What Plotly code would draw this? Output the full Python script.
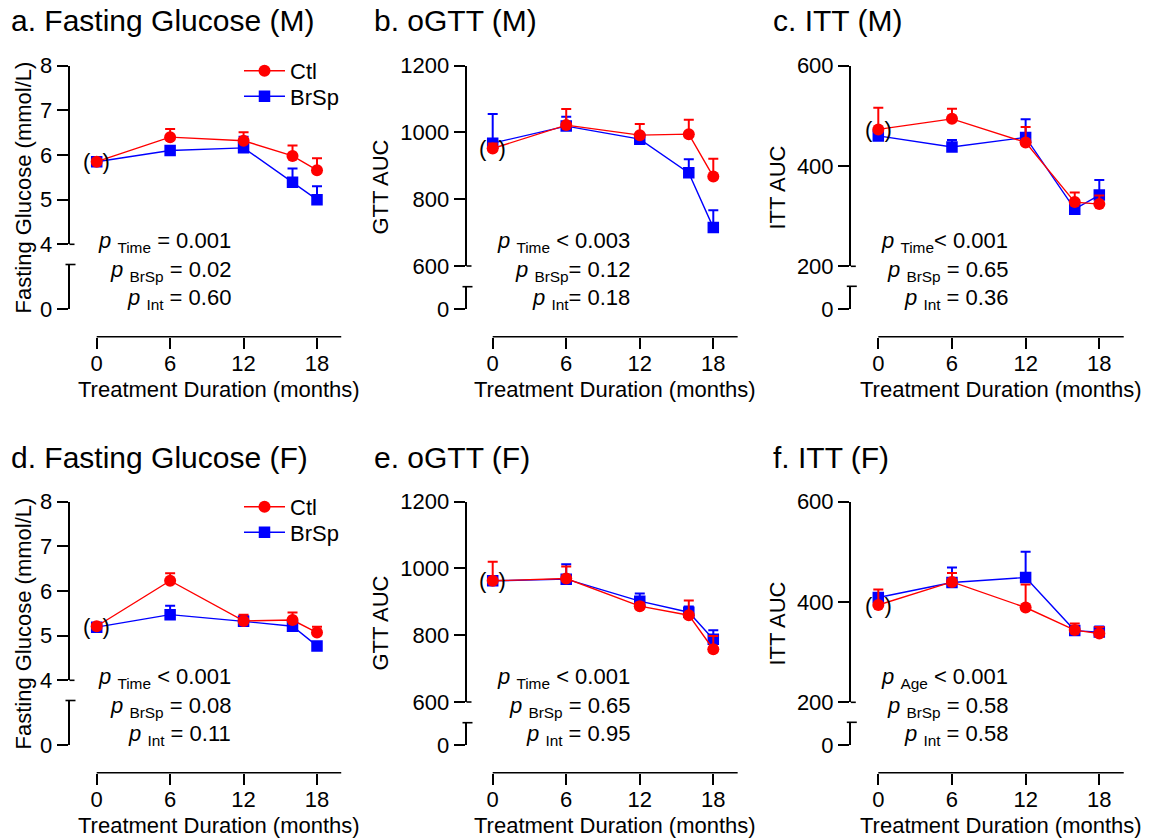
import plotly.graph_objects as go

# ---------------------------------------------------------------- data
months = [0, 6, 12, 16, 18]
x_tick_vals = [0, 6, 12, 18]

# a. Fasting glucose, males (mmol/L)
fg_m_ctl = [5.85, 6.40, 6.32, 5.98, 5.66]
fg_m_ctl_sem = [0.05, 0.18, 0.19, 0.23, 0.27]
fg_m_brsp = [5.85, 6.10, 6.16, 5.39, 5.00]
fg_m_brsp_sem = [0.05, 0.07, 0.25, 0.31, 0.30]

# b. oGTT AUC, males
gtt_m_ctl = [952, 1022, 992, 995, 868]
gtt_m_ctl_sem = [15, 48, 33, 43, 53]
gtt_m_brsp = [968, 1019, 980, 879, 715]
gtt_m_brsp_sem = [87, 28, 12, 41, 52]

# c. ITT AUC, males
itt_m_ctl = [473, 494, 447, 328, 324]
itt_m_ctl_sem = [43, 20, 31, 19, 17]
itt_m_brsp = [460, 438, 457, 314, 342]
itt_m_brsp_sem = [8, 14, 36, 8, 30]

# d. Fasting glucose, females (mmol/L)
fg_f_ctl = [5.21, 6.23, 5.33, 5.35, 5.07]
fg_f_ctl_sem = [0.05, 0.17, 0.14, 0.17, 0.13]
fg_f_brsp = [5.19, 5.47, 5.32, 5.21, 4.77]
fg_f_brsp_sem = [0.05, 0.20, 0.12, 0.06, 0.08]

# e. oGTT AUC, females
gtt_f_ctl = [963, 970, 887, 860, 758]
gtt_f_ctl_sem = [57, 36, 10, 44, 40]
gtt_f_brsp = [963, 968, 902, 869, 788]
gtt_f_brsp_sem = [10, 45, 23, 17, 27]

# f. ITT AUC, females
itt_f_ctl = [394, 440, 389, 344, 337]
itt_f_ctl_sem = [31, 18, 46, 13, 13]
itt_f_brsp = [409, 439, 449, 343, 340]
itt_f_brsp_sem = [9, 30, 51, 8, 11]

panel_titles = ["a. Fasting Glucose (M)", "b. oGTT (M)", "c. ITT (M)",
                "d. Fasting Glucose (F)", "e. oGTT (F)", "f. ITT (F)"]
y_titles = ["Fasting Glucose (mmol/L)", "GTT AUC", "ITT AUC"]
x_title = "Treatment Duration (months)"
y_ranges = [(4, 8), (600, 1200), (200, 600)]
y_tick_vals = [[4, 5, 6, 7, 8], [600, 800, 1000, 1200], [200, 400, 600]]

p_texts = [
    ["<i>p</i> <sub>Time</sub> = 0.001", "<i>p</i> <sub>BrSp</sub> = 0.02", "<i>p</i> <sub>Int</sub> = 0.60"],
    ["<i>p</i> <sub>Time</sub> < 0.003", "<i>p</i> <sub>BrSp</sub>= 0.12", "<i>p</i> <sub>Int</sub>= 0.18"],
    ["<i>p</i> <sub>Time</sub>< 0.001", "<i>p</i> <sub>BrSp</sub> = 0.65", "<i>p</i> <sub>Int</sub> = 0.36"],
    ["<i>p</i> <sub>Time</sub> < 0.001", "<i>p</i> <sub>BrSp</sub> = 0.08", "<i>p</i> <sub>Int</sub> = 0.11"],
    ["<i>p</i> <sub>Time</sub> < 0.001", "<i>p</i> <sub>BrSp</sub> = 0.65", "<i>p</i> <sub>Int</sub> = 0.95"],
    ["<i>p</i> <sub>Age</sub> < 0.001", "<i>p</i> <sub>BrSp</sub> = 0.58", "<i>p</i> <sub>Int</sub> = 0.58"],
]

series = [
    (fg_m_ctl, fg_m_ctl_sem, fg_m_brsp, fg_m_brsp_sem),
    (gtt_m_ctl, gtt_m_ctl_sem, gtt_m_brsp, gtt_m_brsp_sem),
    (itt_m_ctl, itt_m_ctl_sem, itt_m_brsp, itt_m_brsp_sem),
    (fg_f_ctl, fg_f_ctl_sem, fg_f_brsp, fg_f_brsp_sem),
    (gtt_f_ctl, gtt_f_ctl_sem, gtt_f_brsp, gtt_f_brsp_sem),
    (itt_f_ctl, itt_f_ctl_sem, itt_f_brsp, itt_f_brsp_sem),
]

# ---------------------------------------------------------------- layout geometry (pixels)
W, H = 1152, 839
FONT = "Liberation Sans, Arial, Helvetica, sans-serif"
RED, BLUE, INK = "#FF0000", "#0000FF", "#000000"
X_END = 20
TICK_FONT = 22

COLS = [
    dict(yax=69.5, x0=96.7, x18=317.0, title_x=9, ytitle_x=23, p_right=233),
    dict(yax=466.5, x0=492.7, x18=713.3, title_x=372, ytitle_x=380, p_right=632),
    dict(yax=850.8, x0=878.3, x18=1099.3, title_x=771, ytitle_x=777, p_right=1010),
]
YGEOM = [
    dict(top=65.7, bot=244.3, low_top=264.5, zero=309.2),
    dict(top=65.7, bot=266.0, low_top=286.7, zero=309.2),
    dict(top=65.7, bot=266.3, low_top=286.3, zero=309.2),
]
ROW_SHIFT = [0, 436]
XAXIS_Y = 336.8


def fx(px):
    return px / W


def fy(py):
    return 1 - py / H


fig = go.Figure()
layout = dict(
    width=W, height=H,
    margin=dict(l=0, r=0, t=0, b=0, autoexpand=False),
    paper_bgcolor="white", plot_bgcolor="rgba(0,0,0,0)",
    font=dict(family=FONT, color=INK, size=21),
    showlegend=True,
)
shapes, annotations = [], []
axis_style = dict(showgrid=False, zeroline=False, ticks="outside", ticklen=11,
                  tickwidth=1.6, tickcolor=INK, tickfont=dict(size=TICK_FONT))

for i in range(6):
    r, c = divmod(i, 3)
    col, yg, dy = COLS[c], YGEOM[c], ROW_SHIFT[r]
    n = i + 1
    xid = f"x{n}" if n > 1 else "x"
    yu_n, yl_n = 2 * i + 1, 2 * i + 2
    yu_id = f"y{yu_n}" if yu_n > 1 else "y"
    yl_id = f"y{yl_n}"
    s = (col["x18"] - col["x0"]) / 18.0
    x_left = -(col["x0"] - col["yax"]) / s

    ctl, ctl_sem, brsp, brsp_sem = series[i]
    show_leg = c == 0
    leg_ctl = "legend" if r == 0 else "legend3"
    leg_brsp = "legend2" if r == 0 else "legend4"

    fig.add_trace(go.Scatter(
        x=months, y=brsp, name="BrSp", mode="lines+markers",
        line=dict(color=BLUE, width=1.4),
        marker=dict(symbol="square", size=11.5, color=BLUE),
        error_y=dict(type="data", symmetric=False, array=brsp_sem,
                     arrayminus=[0] * len(brsp), color=BLUE, thickness=2, width=5),
        xaxis=xid, yaxis=yu_id, showlegend=show_leg, legend=leg_brsp,
        hoverinfo="skip",
    ))
    fig.add_trace(go.Scatter(
        x=months, y=ctl, name="Ctl", mode="lines+markers",
        line=dict(color=RED, width=1.4),
        marker=dict(symbol="circle", size=12, color=RED),
        error_y=dict(type="data", symmetric=False, array=ctl_sem,
                     arrayminus=[0] * len(ctl), color=RED, thickness=2, width=5),
        xaxis=xid, yaxis=yu_id, showlegend=show_leg, legend=leg_ctl,
        hoverinfo="skip",
    ))
    # empty trace so the lower (broken) y segment gets its own subplot
    fig.add_trace(go.Scatter(x=[], y=[], xaxis=xid, yaxis=yl_id, showlegend=False,
                             hoverinfo="skip"))

    xname = "xaxis" if n == 1 else f"xaxis{n}"
    yu_name = "yaxis" if yu_n == 1 else f"yaxis{yu_n}"
    yl_name = f"yaxis{yl_n}"

    layout[xname] = dict(
        domain=[fx(col["yax"]), fx(col["x0"] + X_END * s)],
        range=[x_left, X_END], anchor="free", position=fy(XAXIS_Y + dy),
        showline=False, tickvals=x_tick_vals, ticklabelstandoff=-4, **axis_style,
    )
    lo, hi = y_ranges[c]
    layout[yu_name] = dict(
        domain=[fy(yg["bot"] + dy), fy(yg["top"] + dy)], range=[lo, hi],
        anchor=xid, showline=True, linewidth=1.6, linecolor=INK,
        tickvals=y_tick_vals[c], **axis_style,
    )
    layout[yl_name] = dict(
        domain=[fy(yg["zero"] + dy), fy(yg["low_top"] + dy)], range=[0, 1],
        anchor=xid, showline=True, linewidth=1.6, linecolor=INK,
        tickvals=[0], **axis_style,
    )

    # x-axis baseline starts at month 0
    shapes.append(dict(type="line", xref=xid, yref="paper", x0=0, x1=X_END,
                       y0=fy(XAXIS_Y + dy), y1=fy(XAXIS_Y + dy),
                       line=dict(color=INK, width=1.6)))
    # axis-break end caps
    shapes.append(dict(type="line", xref="paper", yref="paper",
                       x0=fx(col["yax"]), x1=fx(col["yax"] + 5),
                       y0=fy(yg["bot"] + dy), y1=fy(yg["bot"] + dy),
                       line=dict(color=INK, width=1.6)))
    shapes.append(dict(type="line", xref="paper", yref="paper",
                       x0=fx(col["yax"] - 4), x1=fx(col["yax"] + 6),
                       y0=fy(yg["low_top"] + dy), y1=fy(yg["low_top"] + dy),
                       line=dict(color=INK, width=1.6)))

    # panel title
    annotations.append(dict(text=panel_titles[i], xref="paper", yref="paper",
                            x=fx(col["title_x"]), y=fy(21 + dy), xanchor="left",
                            yanchor="middle", showarrow=False, font=dict(size=30)))
    # y title centred on the full broken axis
    annotations.append(dict(text=y_titles[c], xref="paper", yref="paper",
                            x=fx(col["ytitle_x"]), y=fy(187.5 + dy), textangle=-90,
                            xanchor="center", yanchor="middle", showarrow=False,
                            font=dict(size=22)))
    # x title
    annotations.append(dict(text=x_title, xref=xid, yref="paper", x=X_END / 2,
                            y=fy(389 + dy), xanchor="center", yanchor="middle",
                            showarrow=False, font=dict(size=22)))
    # statistics
    for k, line in enumerate(p_texts[i]):
        annotations.append(dict(text=line, xref="paper", yref="paper",
                                x=fx(col["p_right"]), y=fy(242 + 28.5 * k + dy),
                                xanchor="right", yanchor="middle", showarrow=False,
                                font=dict(size=22)))
    # baseline (month 0) marked in parentheses
    annotations.append(dict(text="(\u00a0\u00a0)", xref=xid, yref=yu_id, x=0, y=ctl[0],
                            xanchor="center", yanchor="middle", showarrow=False,
                            font=dict(size=22)))

leg_common = dict(xanchor="left", yanchor="top", font=dict(size=22), itemwidth=41,
                  bgcolor="rgba(0,0,0,0)")
LEG_X = 239
LEG_ROWS = [50, 75.5]   # top of the Ctl / BrSp legend boxes in the upper row
layout["legend"] = dict(x=fx(LEG_X), y=fy(LEG_ROWS[0]), **leg_common)
layout["legend2"] = dict(x=fx(LEG_X), y=fy(LEG_ROWS[1]), **leg_common)
layout["legend3"] = dict(x=fx(LEG_X), y=fy(LEG_ROWS[0] + ROW_SHIFT[1]), **leg_common)
layout["legend4"] = dict(x=fx(LEG_X), y=fy(LEG_ROWS[1] + ROW_SHIFT[1]), **leg_common)
layout["shapes"] = shapes
layout["annotations"] = annotations
fig.update_layout(**layout)

fig.write_html("out.html")
